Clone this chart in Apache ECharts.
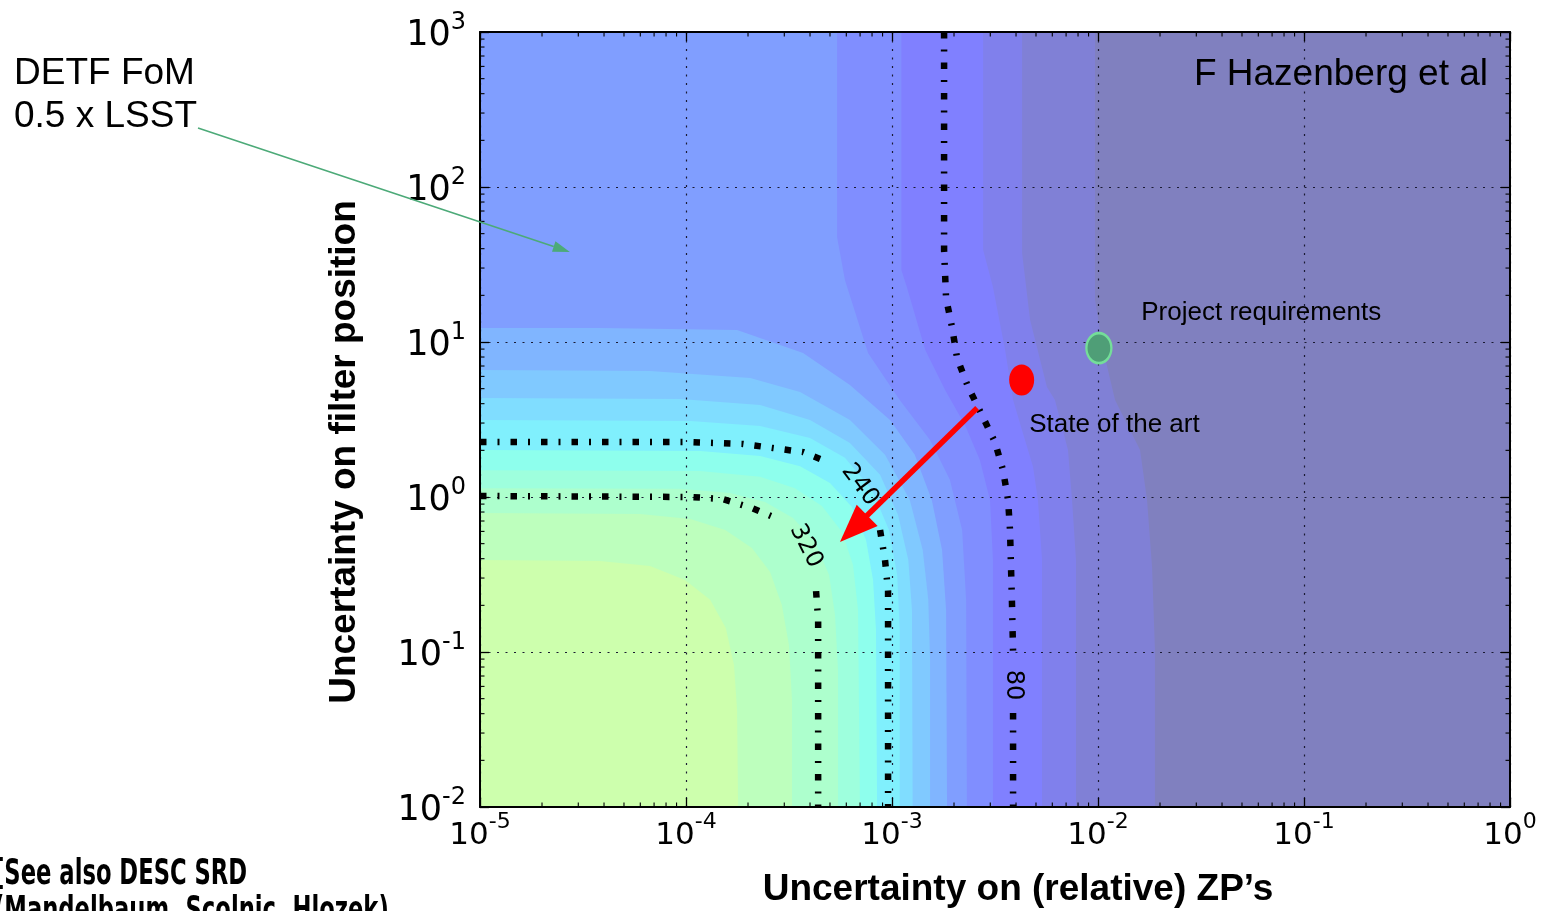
<!DOCTYPE html>
<html>
<head>
<meta charset="utf-8">
<script src="https://cdn.jsdelivr.net/npm/echarts@6/dist/echarts.min.js"></script>
<style>
  html, body { margin: 0; padding: 0; background: #ffffff; }
  #chart { width: 1541px; height: 911px; }
</style>
</head>
<body>
<div id="chart"></div>
<script>
// ---- axes -------------------------------------------------------------
const zpRange = [1e-5, 1];          // uncertainty on relative zero points
const filterRange = [1e-2, 1e3];    // uncertainty on filter position
const zpDecades = [-5, -4, -3, -2, -1, 0];
const filterDecades = [-2, -1, 0, 1, 2, 3];
const minorMultipliers = [2, 3, 4, 5, 6, 7, 8, 9];

// ---- filled FoM levels --------------------------------------------------
// Edge k separates level k (outside) from level k+1 (lower-left side).
// Points are [ZP uncertainty, filter uncertainty], from the top/left edge down to the bottom edge.
const edge0 = [[9.67e-3, 1000], [9.67e-3, 18.7], [1.06e-2, 8.88], [1.21e-2, 4.23], [1.43e-2, 2.71], [1.60e-2, 2.01], [1.73e-2, 0.956], [1.83e-2, 0.353], [1.89e-2, 0.103], [1.89e-2, 0.01]];
const edge1 = [[4.28e-3, 1000], [4.28e-3, 37.5], [4.68e-3, 13.9], [5.65e-3, 5.13], [6.18e-3, 4.23], [7.15e-3, 2.01], [7.48e-3, 0.956], [7.82e-3, 0.392], [7.82e-3, 0.01]];
const edge2 = [[2.77e-3, 1000], [2.77e-3, 39.2], [3.09e-3, 22.6], [3.54e-3, 8.88], [3.87e-3, 4.23], [4.42e-3, 2.33], [4.84e-3, 1.56], [5.11e-3, 0.956], [5.35e-3, 0.392], [5.35e-3, 0.01]];
const edge3 = [[1.11e-3, 1000], [1.11e-3, 29.1], [1.18e-3, 22.6], [1.45e-3, 8.88], [1.81e-3, 4.90], [2.26e-3, 2.91], [2.67e-3, 1.73], [2.99e-3, 0.956], [3.09e-3, 0.392], [3.09e-3, 0.01]];
const edge4 = [[5.41e-4, 1000], [5.41e-4, 47.6], [5.91e-4, 25.1], [7.65e-4, 8.49], [1.09e-3, 4.23], [1.53e-3, 2.33], [1.91e-3, 1.29], [2.19e-3, 0.612], [2.29e-3, 0.217], [2.31e-3, 0.01]];
const edge5 = [[1e-5, 12.3], [3.82e-5, 12.3], [1.77e-4, 11.95], [3.70e-4, 8.49], [6.25e-4, 5.28], [9.78e-4, 3.14], [1.29e-3, 1.87], [1.56e-3, 0.956], [1.75e-3, 0.455], [1.83e-3, 0.187], [1.85e-3, 0.01]];
const edge6 = [[1e-5, 6.60], [6.69e-5, 6.50], [2.05e-4, 5.86], [3.58e-4, 4.76], [6.25e-4, 3.14], [9.25e-4, 1.87], [1.22e-3, 0.956], [1.41e-3, 0.455], [1.50e-3, 0.217], [1.53e-3, 0.0888], [1.53e-3, 0.01]];
const edge7 = [[1e-5, 4.35], [9.35e-5, 4.29], [2.29e-4, 3.92], [4.0e-4, 3.14], [6.25e-4, 2.23], [8.75e-4, 1.39], [1.07e-3, 0.765], [1.20e-3, 0.392], [1.25e-3, 0.187], [1.26e-3, 0.01]];
const edge8 = [[1e-5, 3.14], [1.05e-4, 3.09], [2.29e-4, 2.87], [4.0e-4, 2.40], [5.91e-4, 1.79], [8.0e-4, 1.11], [9.67e-4, 0.612], [1.06e-3, 0.314], [1.09e-3, 0.139], [1.09e-3, 0.01]];
const edge9 = [[1e-5, 2.01], [1.17e-4, 1.98], [2.29e-4, 1.84], [3.58e-4, 1.58], [5.0e-4, 1.23], [6.39e-4, 0.862], [7.48e-4, 0.528], [8.09e-4, 0.291], [8.36e-4, 0.139], [8.46e-4, 0.01]];
const edge10 = [[1e-5, 1.49], [1.17e-4, 1.47], [2.29e-4, 1.35], [3.38e-4, 1.14], [4.57e-4, 0.875], [5.72e-4, 0.594], [6.47e-4, 0.364], [6.84e-4, 0.187], [6.99e-4, 0.01]];
const edge11 = [[1e-5, 1.14], [9.35e-5, 1.13], [1.64e-4, 1.06], [2.42e-4, 0.928], [3.31e-4, 0.732], [4.23e-4, 0.513], [4.95e-4, 0.314], [5.29e-4, 0.173], [5.47e-4, 0.0766], [5.47e-4, 0.01]];
const edge12 = [[1e-5, 0.788], [5.98e-5, 0.777], [1.05e-4, 0.721], [1.55e-4, 0.612], [2.09e-4, 0.469], [2.56e-4, 0.328], [2.92e-4, 0.201], [3.16e-4, 0.111], [3.27e-4, 0.049], [3.27e-4, 0.01]];
const edge13 = [[1e-5, 0.392], [3.82e-5, 0.386], [6.69e-5, 0.359], [9.89e-5, 0.291], [1.31e-4, 0.217], [1.56e-4, 0.143], [1.71e-4, 0.0824], [1.77e-4, 0.0422], [1.79e-4, 0.01]];
const levelEdges = [edge0, edge1, edge2, edge3, edge4, edge5, edge6, edge7, edge8, edge9, edge10, edge11, edge12, edge13];

// ---- labelled FoM contours (split where the label sits) -----------------
const contourLevels = [80, 240, 320];
const contour80 = [
  [[1.79e-3, 1000], [1.79e-3, 39.2], [1.83e-3, 19.2], [1.96e-3, 12.3], [2.07e-3, 7.88], [2.34e-3, 5.13], [2.59e-3, 3.92], [3.16e-3, 2.26], [3.46e-3, 1.49], [3.66e-3, 0.956], [3.74e-3, 0.612], [3.82e-3, 0.217], [3.87e-3, 0.1]],
  [[3.87e-3, 0.0404], [3.87e-3, 0.01]]
];
const contour240 = [
  [[1e-5, 2.26], [1.05e-4, 2.26], [1.89e-4, 2.20], [2.64e-4, 2.07], [3.70e-4, 1.95], [5.0e-4, 1.66]],
  [[8.75e-4, 0.612], [9.25e-4, 0.392], [9.57e-4, 0.247], [9.57e-4, 0.01]]
];
const contour320 = [
  [[1e-5, 1.015], [1.05e-4, 1.0], [1.50e-4, 0.971], [2.09e-4, 0.849], [2.86e-4, 0.711]],
  [[4.28e-4, 0.247], [4.38e-4, 0.161], [4.38e-4, 0.01]]
];
const contourLabelAt = [[3.87e-3, 0.0612], [6.99e-4, 1.195], [3.82e-4, 0.483]];

// ---- annotated configurations ------------------------------------------
const stateOfTheArt = [4.26e-3, 5.69];
const projectRequirements = [1.01e-2, 9.14];
const improvementArrow = [2.59e-3, 3.75, 5.59e-4, 0.513];
const fomPointerTip = [2.73e-5, 38.1];

// ---- styling -------------------------------------------------------------
// jet colour map at half opacity over white, lowest FoM level first
const levelColors = ['#8080bf', '#8080d6', '#8080ec', '#8080ff', '#808eff', '#809eff', '#80b5ff', '#80c9ff',
  '#80ddff', '#80f0fd', '#8effed', '#9effdd', '#adffcd', '#bdffbd', '#cdffad'];
const contourLines = [contour80, contour240, contour320];

const chart = echarts.init(document.getElementById('chart'));

function powerLabel(v) {
  const e = Math.round(Math.log10(v));
  return '{b|10}{s|' + (e < 0 ? '-' : '') + Math.abs(e) + '}';
}

function renderLevel(params, api) {
  const k = api.value(2);
  let pts;
  if (k === 0) {
    pts = [[zpRange[0], filterRange[1]], [zpRange[1], filterRange[1]], [zpRange[1], filterRange[0]], [zpRange[0], filterRange[0]]];
  } else {
    const e = levelEdges[k - 1];
    pts = e.concat([[zpRange[0], filterRange[0]], [zpRange[0], e[0][1]]]);
  }
  return {
    type: 'polygon',
    shape: { points: pts.map(p => api.coord(p)) },
    style: { fill: levelColors[k] }
  };
}

function renderContourLabel(params, api) {
  const i = api.value(2);
  const segs = contourLines[i];
  const a = api.coord(segs[0][segs[0].length - 1]);
  const b = api.coord(segs[1][0]);
  let ang = Math.atan2(b[1] - a[1], b[0] - a[0]);
  if (ang > Math.PI / 2 + 0.01) ang -= Math.PI;
  if (ang < -Math.PI / 2 - 0.01) ang += Math.PI;
  const c = api.coord([api.value(0), api.value(1)]);
  return {
    type: 'text', x: c[0], y: c[1], rotation: -ang,
    style: { text: String(contourLevels[i]), font: '24px "DejaVu Sans"', fill: '#000', align: 'center', verticalAlign: 'middle' }
  };
}

function renderArrow(params, api) {
  const p0 = api.coord([api.value(0), api.value(1)]);
  const p1 = api.coord([api.value(2), api.value(3)]);
  const dx = p1[0] - p0[0], dy = p1[1] - p0[1];
  const len = Math.hypot(dx, dy), ux = dx / len, uy = dy / len;
  const headLen = 38, headHalf = 15;
  const bx = p1[0] - ux * headLen, by = p1[1] - uy * headLen;
  return {
    type: 'group',
    children: [
      { type: 'line', shape: { x1: p0[0], y1: p0[1], x2: bx + ux * 3, y2: by + uy * 3 }, style: { stroke: '#ff0000', lineWidth: 5.5 } },
      { type: 'polygon', shape: { points: [p1, [bx - uy * headHalf, by + ux * headHalf], [bx + uy * headHalf, by - ux * headHalf]] }, style: { fill: '#ff0000' } }
    ]
  };
}

const xLabelRich = {
  b: { fontFamily: 'DejaVu Sans', fontSize: 31, color: '#000', lineHeight: 40, verticalAlign: 'bottom' },
  s: { fontFamily: 'DejaVu Sans', fontSize: 22, color: '#000', lineHeight: 20, verticalAlign: 'top' }
};
const yLabelRich = {
  b: { fontFamily: 'DejaVu Sans', fontSize: 35, color: '#000', lineHeight: 42, verticalAlign: 'bottom' },
  s: { fontFamily: 'DejaVu Sans', fontSize: 24, color: '#000', lineHeight: 16, verticalAlign: 'top' }
};
const frameLine = { show: true, lineStyle: { color: '#000', width: 2 } };
const majorTick = { show: true, inside: true, length: 9, lineStyle: { color: '#000', width: 1.3 } };
const gridDots = { show: true, lineStyle: { color: '#1a1a33', width: 1.2, type: [2, 6.5] } };
const noteLabel = { show: true, align: 'left', verticalAlign: 'middle', fontFamily: 'Liberation Sans', fontSize: 26, color: '#000', opacity: 1 };

const option = {
  animation: false,
  backgroundColor: '#ffffff',
  grid: { left: 480, top: 32, width: 1030, height: 775 },
  xAxis: [
    { type: 'log', logBase: 10, min: zpRange[0], max: zpRange[1], interval: 1, position: 'bottom', z: 4,
      axisLine: frameLine, axisTick: majorTick, splitLine: gridDots, minorTick: { show: false },
      axisLabel: { formatter: powerLabel, rich: xLabelRich, margin: 4 } },
    { type: 'log', logBase: 10, min: zpRange[0], max: zpRange[1], interval: 1, position: 'top', z: 4,
      axisLine: frameLine, axisTick: majorTick, splitLine: { show: false }, axisLabel: { show: false } }
  ],
  yAxis: [
    { type: 'log', logBase: 10, min: filterRange[0], max: filterRange[1], interval: 1, position: 'left', z: 4,
      axisLine: frameLine, axisTick: majorTick, splitLine: gridDots,
      axisLabel: { formatter: powerLabel, rich: yLabelRich, margin: 14 } },
    { type: 'log', logBase: 10, min: filterRange[0], max: filterRange[1], interval: 1, position: 'right', z: 4,
      axisLine: frameLine, axisTick: majorTick, splitLine: { show: false }, axisLabel: { show: false } }
  ],
  series: [
    { type: 'custom', name: 'FoM levels', renderItem: renderLevel, clip: true, silent: true, z: 1,
      encode: { x: 0, y: 1 },
      data: levelColors.map((c, k) => [zpRange[0], filterRange[0], k]) }
  ].concat(
    contourLines.flatMap(segs => segs.map(seg => ({
      type: 'line', data: seg, symbol: 'none', silent: true, z: 6, clip: true,
      lineStyle: { color: '#000', width: 6.5, type: [6.5, 11, 2, 11], cap: 'butt', join: 'miter' }
    })))
  ).concat([
    { type: 'custom', name: 'contour labels', renderItem: renderContourLabel, silent: true, z: 7,
      encode: { x: 0, y: 1 },
      data: contourLabelAt.map((p, i) => [p[0], p[1], i]) },
    { type: 'custom', name: 'improvement', renderItem: renderArrow, silent: true, z: 9,
      encode: { x: [0, 2], y: [1, 3] },
      data: [improvementArrow] },
    { type: 'scatter', silent: true, z: 8,
      data: [
        { value: stateOfTheArt, symbolSize: [25, 31], itemStyle: { color: '#ff0000', opacity: 1 },
          label: Object.assign({ formatter: 'State of the art', position: [20, 60] }, noteLabel) },
        { value: projectRequirements, symbolSize: [25, 30], itemStyle: { color: '#4f9e77', borderColor: '#74de99', borderWidth: 2.5, opacity: 1 },
          label: Object.assign({ formatter: 'Project requirements', position: [56, -19] }, noteLabel) }
      ] }
  ])
};
chart.setOption(option);

// minor log ticks on all four sides, annotation texts and the pointer arrow
function decorations() {
  const els = [];
  const xPix = v => chart.convertToPixel({ xAxisIndex: 0 }, v);
  const yPix = v => chart.convertToPixel({ yAxisIndex: 0 }, v);
  const left = xPix(zpRange[0]), right = xPix(zpRange[1]);
  const top = yPix(filterRange[1]), bottom = yPix(filterRange[0]);
  const tickStyle = { stroke: '#000', lineWidth: 1.1 };
  for (let i = 0; i < zpDecades.length - 1; i++) {
    minorMultipliers.forEach(m => {
      const x = xPix(m * Math.pow(10, zpDecades[i]));
      els.push({ type: 'line', z: 30, shape: { x1: x, y1: bottom, x2: x, y2: bottom - 4.5 }, style: tickStyle });
      els.push({ type: 'line', z: 30, shape: { x1: x, y1: top, x2: x, y2: top + 4.5 }, style: tickStyle });
    });
  }
  for (let i = 0; i < filterDecades.length - 1; i++) {
    minorMultipliers.forEach(m => {
      const y = yPix(m * Math.pow(10, filterDecades[i]));
      els.push({ type: 'line', z: 30, shape: { x1: left, y1: y, x2: left + 4.5, y2: y }, style: tickStyle });
      els.push({ type: 'line', z: 30, shape: { x1: right, y1: y, x2: right - 4.5, y2: y }, style: tickStyle });
    });
  }
  const txt = (text, x, y, font, align, extra) => Object.assign({
    type: 'text', z: 30, x: x, y: y,
    style: { text: text, font: font, fill: '#000', align: align, verticalAlign: 'middle', textAlign: align, textVerticalAlign: 'middle' }
  }, extra || {});
  els.push(txt('DETF FoM', 14, 74, '37px "Liberation Sans"', 'left'));
  els.push(txt('0.5 x LSST', 14, 117, '37px "Liberation Sans"', 'left'));
  els.push(txt('F Hazenberg et al', 1488, 75, '37px "Liberation Sans"', 'right'));
  els.push(txt('Uncertainty on (relative) ZP\u2019s', 1018, 890, 'bold 37px "Liberation Sans"', 'center'));
  els.push(txt('Uncertainty on filter position', 345, 452, 'bold 37px "Liberation Sans"', 'center', { rotation: Math.PI / 2 }));
  els.push(txt('[See also DESC SRD', -6, 875, 'bold 36px "DejaVu Sans Condensed"', 'left', { scaleX: 0.7 }));
  els.push(txt('(Mandelbaum, Scolnic, Hlozek)', -6, 912, 'bold 36px "DejaVu Sans Condensed"', 'left', { scaleX: 0.7 }));

  // pointer from the FoM caption into the plot
  const tip = chart.convertToPixel({ gridIndex: 0 }, fomPointerTip);
  const tail = [198, 128];
  const dx = tip[0] - tail[0], dy = tip[1] - tail[1];
  const len = Math.hypot(dx, dy), ux = dx / len, uy = dy / len;
  const hl = 17, hw = 5.5;
  const bx = tip[0] - ux * hl, by = tip[1] - uy * hl;
  els.push({ type: 'line', z: 31, shape: { x1: tail[0], y1: tail[1], x2: bx, y2: by }, style: { stroke: '#4caa78', lineWidth: 1.6 } });
  els.push({ type: 'polygon', z: 31, shape: { points: [tip, [bx - uy * hw, by + ux * hw], [bx + uy * hw, by - ux * hw]] }, style: { fill: '#4caa78' } });
  return els;
}
chart.setOption({ graphic: { elements: decorations() } });
</script>
</body>
</html>
